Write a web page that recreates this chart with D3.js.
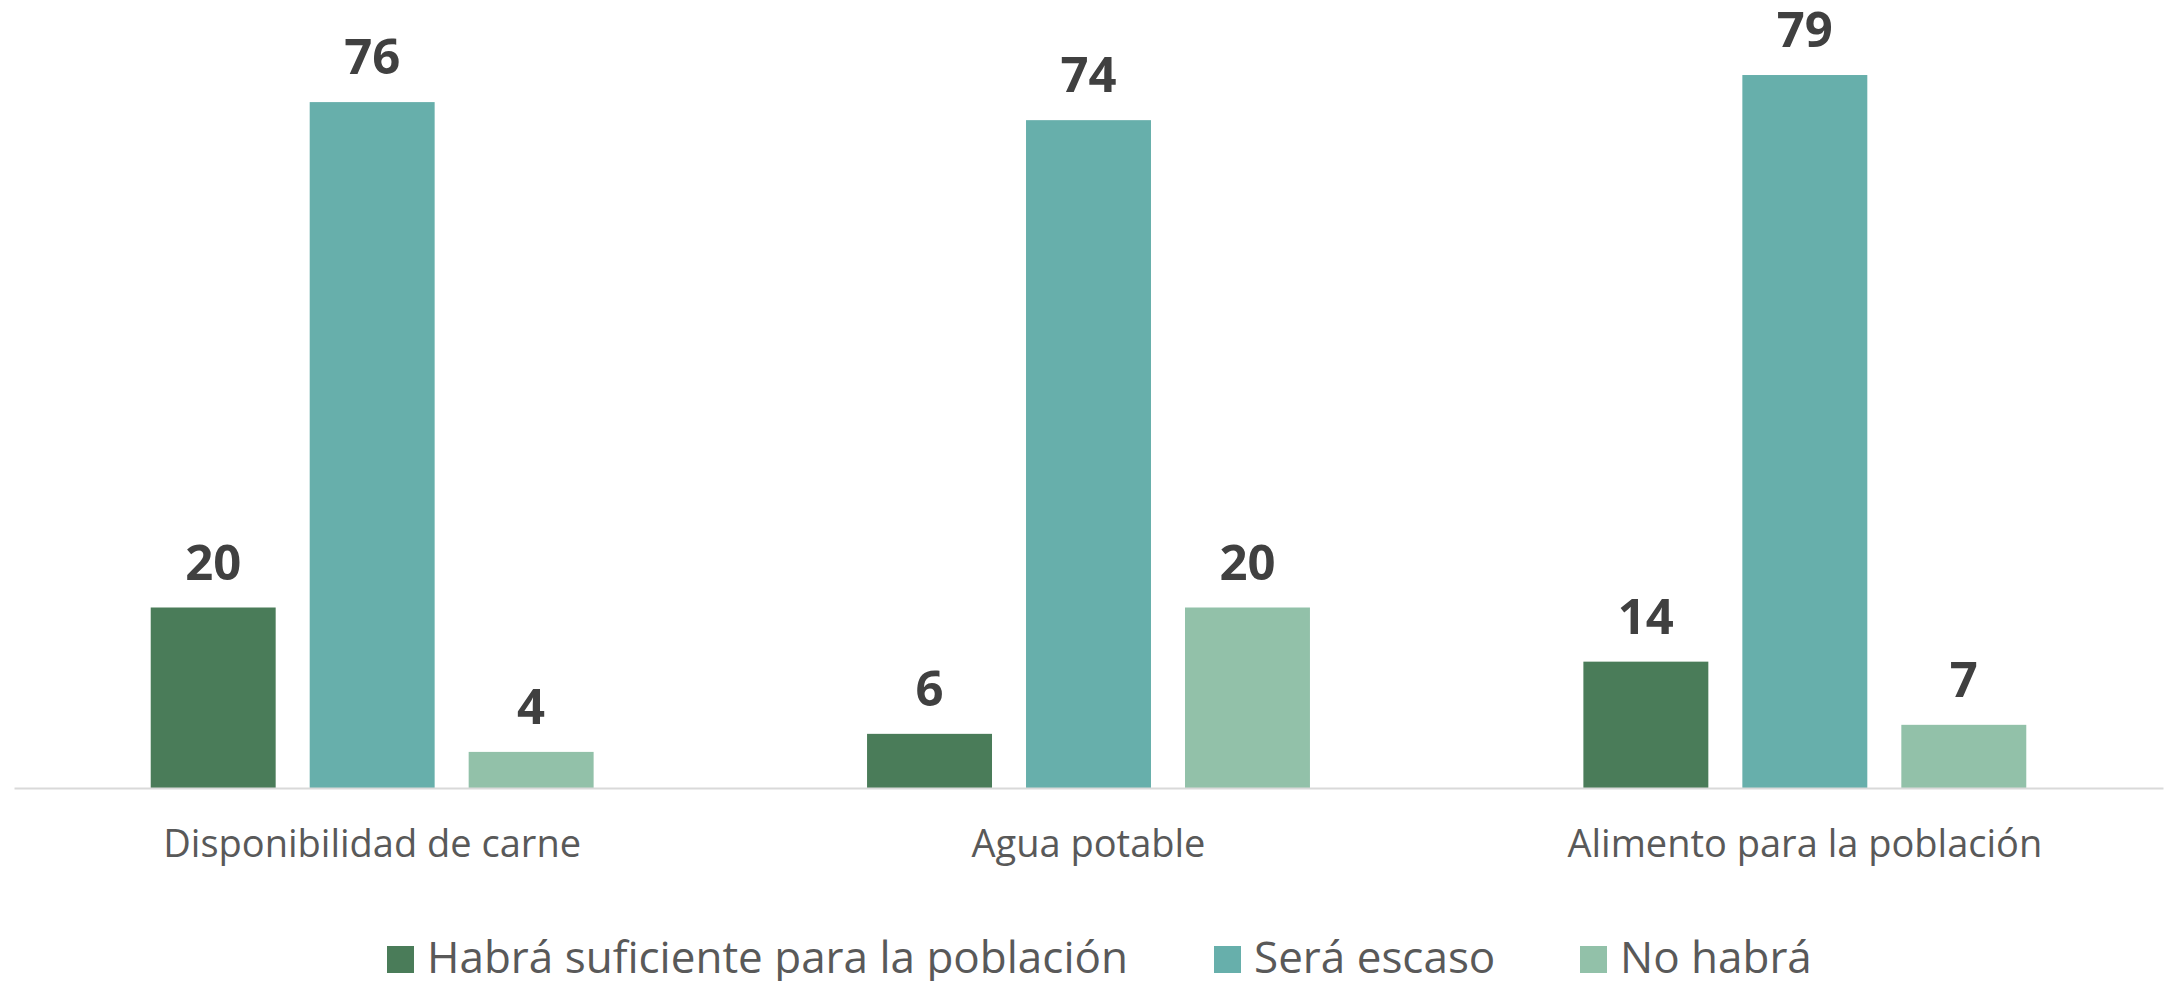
<!DOCTYPE html>
<html>
<head>
<meta charset="utf-8">
<script src="https://cdn.jsdelivr.net/npm/d3@7"></script>
<style>
  html, body { margin: 0; padding: 0; background: #fff; }
  svg { display: block; font-family: "Open Sans", sans-serif; }
</style>
</head>
<body>
<div id="chart"></div>
<script>
// Chart data
const categories = ["Disponibilidad de carne", "Agua potable", "Alimento para la población"];
const series = ["Habrá suficiente para la población", "Será escaso", "No habrá"];
const suficiente = [20, 6, 14];
const escaso = [76, 74, 79];
const noHabra = [4, 20, 7];

(function() {
  const width = 2165;
  const height = 981;
  const colors = ["#4a7c59", "#67afab", "#92c1a9"];
  const values = [suficiente, escaso, noHabra];

  const rows = categories.map((c, i) => ({
    category: c,
    items: series.map((s, j) => ({ series: s, value: values[j][i], color: colors[j] }))
  }));

  const svg = d3.select("#chart")
    .append("svg")
    .attr("width", width)
    .attr("height", height);

  const x0 = d3.scaleBand()
    .domain(categories)
    .range([14, 2163])
    .padding(0);

  const x1 = d3.scaleBand()
    .domain(series)
    .range([0, x0.bandwidth()])
    .paddingInner(0.214)
    .paddingOuter(0.86);

  const y = d3.scaleLinear()
    .domain([0, 80])
    .range([788, 66]);

  // bars
  const group = svg.append("g")
    .selectAll("g")
    .data(rows)
    .join("g")
    .attr("transform", d => `translate(${x0(d.category)},0)`);

  group.selectAll("rect")
    .data(d => d.items)
    .join("rect")
    .attr("x", d => x1(d.series))
    .attr("y", d => y(d.value))
    .attr("width", x1.bandwidth())
    .attr("height", d => y(0) - y(d.value))
    .attr("fill", d => d.color);

  // value labels
  group.selectAll("text.val")
    .data(d => d.items)
    .join("text")
    .attr("class", "val")
    .attr("x", d => x1(d.series) + x1.bandwidth() / 2)
    .attr("y", d => y(d.value) - 28)
    .attr("text-anchor", "middle")
    .attr("font-size", "49px")
    .attr("font-weight", "bold")
    .attr("fill", "#404040")
    .text(d => d.value);

  // axis
  const xAxis = svg.append("g")
    .attr("transform", `translate(0,${y(0)})`)
    .call(d3.axisBottom(x0).tickSize(0).tickPadding(42));
  xAxis.select(".domain")
    .attr("stroke", "#d9d9d9")
    .attr("stroke-width", 2);
  xAxis.selectAll("text")
    .attr("font-family", "Open Sans, sans-serif")
    .attr("font-size", "38px")
    .attr("fill", "#595959");

  // legend
  const legendItems = [
    { label: series[0], x: 387 },
    { label: series[1], x: 1214 },
    { label: series[2], x: 1580 }
  ];
  const legend = svg.append("g")
    .selectAll("g")
    .data(legendItems)
    .join("g")
    .attr("transform", d => `translate(${d.x},946)`);
  legend.append("rect")
    .attr("width", 27)
    .attr("height", 27)
    .attr("fill", (d, i) => colors[i]);
  legend.append("text")
    .attr("x", 40)
    .attr("y", 27)
    .attr("font-size", "44px")
    .attr("fill", "#595959")
    .text(d => d.label);
})();
</script>
</body>
</html>
